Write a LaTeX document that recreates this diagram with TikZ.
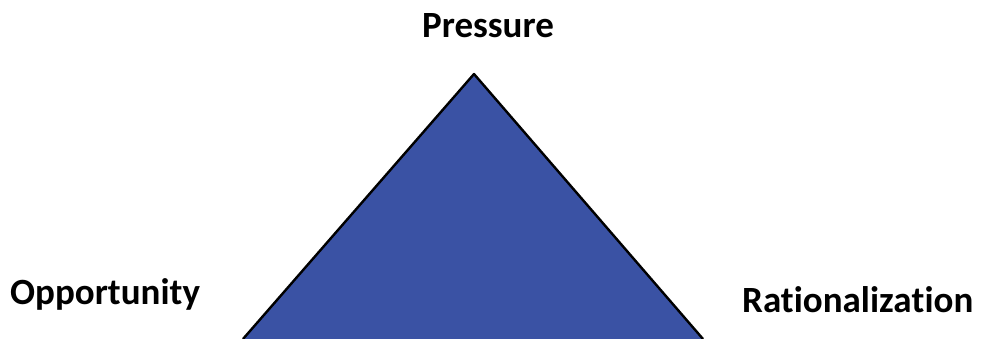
\documentclass[tikz,border=0pt]{standalone}
\usepackage{fontspec}
\setmainfont{Carlito}[RawFeature={-liga;-clig;-dlig;-rlig;-calt}]
\definecolor{triblue}{HTML}{3A52A4}
\begin{document}
\begin{tikzpicture}[x=1pt,y=1pt,
  lbl/.style={font=\bfseries\fontsize{37}{44}\selectfont, text=black, inner sep=0pt}]
\useasboundingbox (0,0) rectangle (981,339);
\coordinate (apex) at (474,265);
\coordinate (bl) at (243,0);
\coordinate (br) at (703,0);
\path[fill=triblue] (bl) -- (apex) -- (br) -- cycle;
\draw[line width=2.4pt, line join=round] (bl) -- (apex) -- (br);
\node[lbl, anchor=base] (pressure) at (488,301) {Pressure};
\node[lbl, anchor=base west] (opp) at (10,34) {Opportunity};
\node[lbl, anchor=base west] (rat) at (742,26) {Rationaliza\kern0pt t\kern0pt ion};
\end{tikzpicture}
\end{document}
